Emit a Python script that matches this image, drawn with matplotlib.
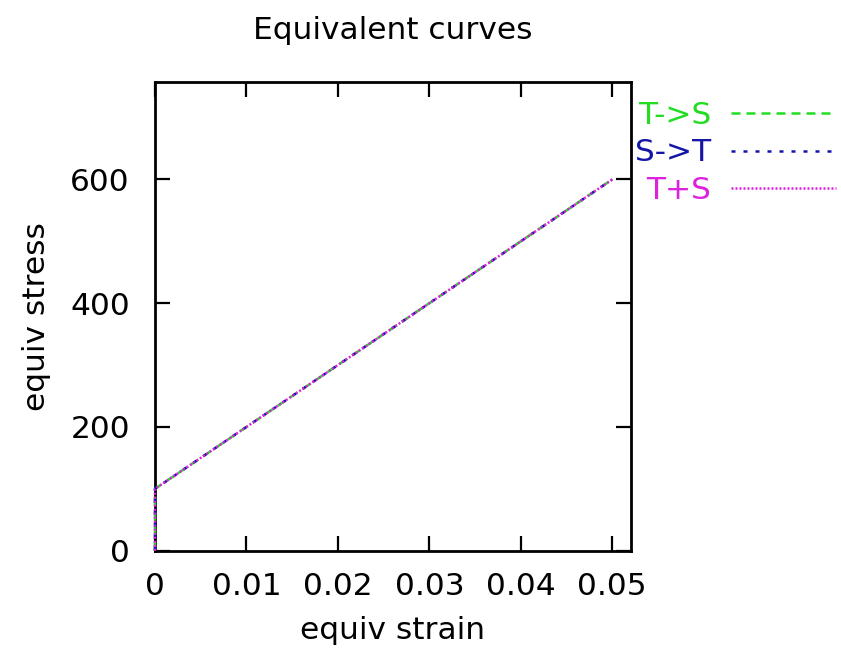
import matplotlib
matplotlib.use("Agg")
import matplotlib.pyplot as plt

# equivalent strain / stress for the three load paths
strain = [0.0, 0.0, 0.05]
stress_ts = [0.0, 100.0, 600.0]
stress_st = [0.0, 100.0, 600.0]
stress_tps = [0.0, 100.0, 600.0]

labels = ['T->S', 'S->T', 'T+S']
colors = ['#22dd22', '#1515a8', '#dd22dd']

x_ticks = [0, 0.01, 0.02, 0.03, 0.04, 0.05]
x_tick_labels = ['0', '0.01', '0.02', '0.03', '0.04', '0.05']
y_ticks = [0, 200, 400, 600]

FS = 22.5
plt.rcParams['font.family'] = ['DejaVu Sans']

fig = plt.figure(figsize=(8.41, 6.62), dpi=100)
ax = fig.add_axes([155 / 841, 1 - 550.7 / 662, 475.5 / 841, 469 / 662])

ax.plot(strain, stress_ts, color=colors[0], lw=1.8, ls=(0, (3.6, 2.4)),
        label=labels[0], zorder=3, clip_on=False)
ax.plot(strain, stress_st, color=colors[1], lw=1.8, ls=(0, (1.6, 3.2)),
        label=labels[1], zorder=3, clip_on=False)
ax.plot(strain, stress_tps, color=colors[2], lw=1.8, ls=(0, (0.8, 0.8)),
        label=labels[2], zorder=3, clip_on=False)

ax.set_xlim(0, 0.052)
ax.set_ylim(0, 758)
ax.set_xticks(x_ticks)
ax.set_xticklabels(x_tick_labels)
ax.set_yticks(y_ticks)

for spine in ax.spines.values():
    spine.set_linewidth(2)

ax.tick_params(direction='in', length=11, width=1.6, top=True, right=True,
               labelsize=FS)
ax.tick_params(axis='x', pad=15)
ax.tick_params(axis='y', pad=18)

ax.set_xlabel('equiv strain', fontsize=FS, labelpad=11)
ax.set_ylabel('equiv stress', fontsize=FS, labelpad=14)
ax.set_title('Equivalent curves', fontsize=FS, pad=31)

ax.legend(loc='upper left', bbox_to_anchor=(635 / 841, 1 - 101 / 662),
          bbox_transform=fig.transFigure, frameon=False, markerfirst=False,
          fontsize=FS, handlelength=3.35, handletextpad=0.65, labelspacing=0.27,
          borderpad=0, borderaxespad=0, labelcolor='linecolor')

fig.savefig('out.png', dpi=100)
